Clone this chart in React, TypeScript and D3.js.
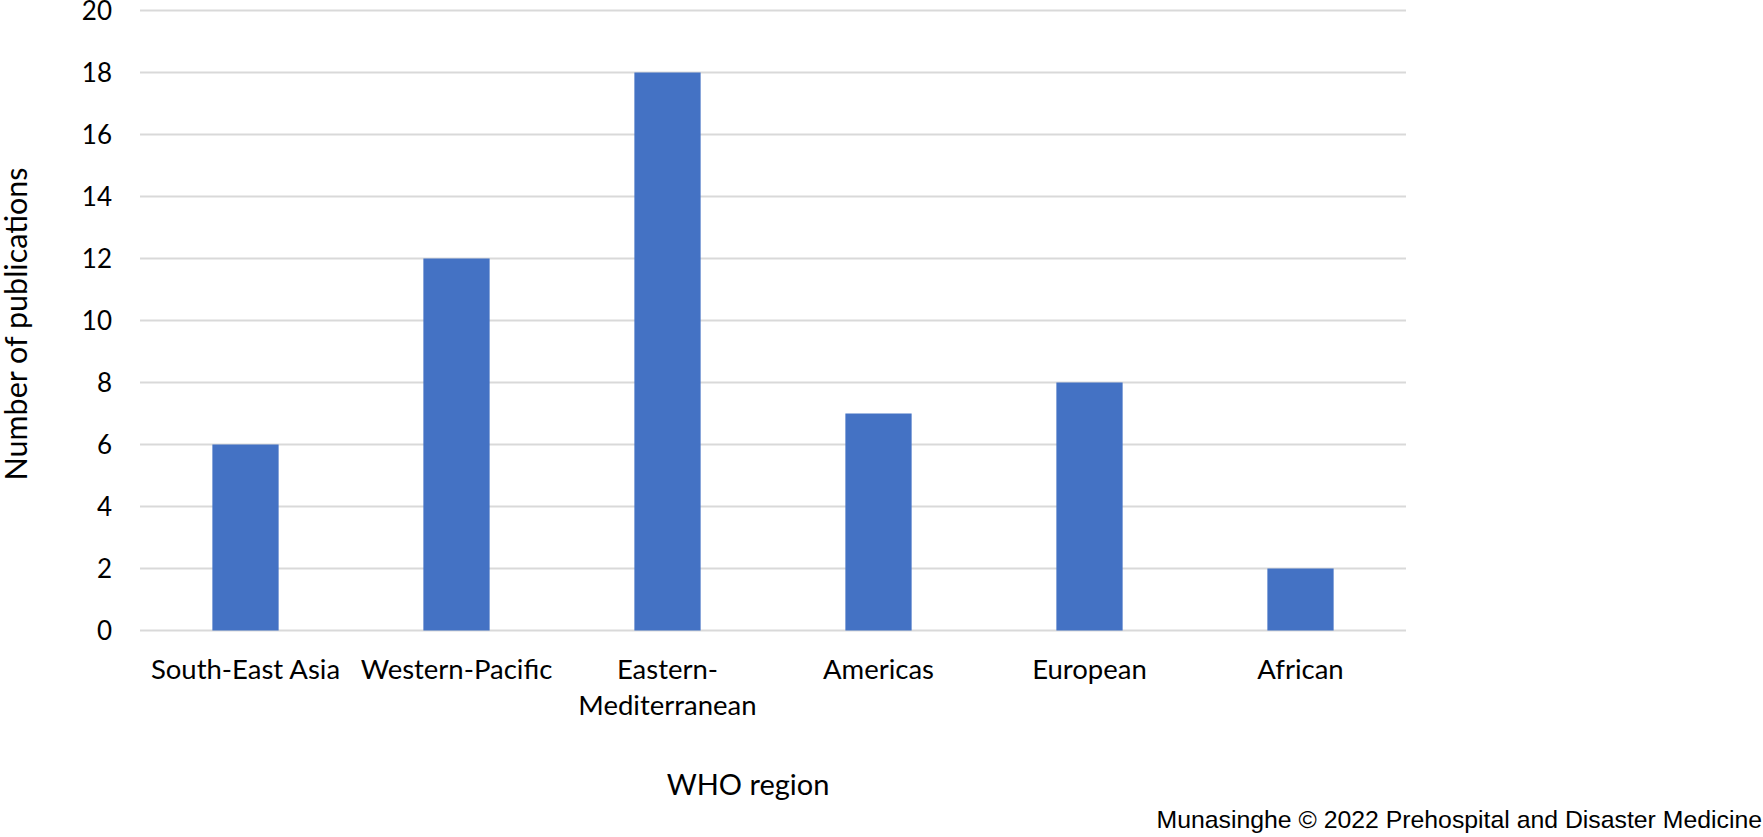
import React, { useEffect } from "react";
import * as d3 from "d3";

const categories: string[][] = [
  ["South-East Asia"],
  ["Western-Pacific"],
  ["Eastern-", "Mediterranean"],
  ["Americas"],
  ["European"],
  ["African"],
];
const values: number[] = [6, 12, 18, 7, 8, 2];
const yTicks: number[] = [0, 2, 4, 6, 8, 10, 12, 14, 16, 18, 20];
const xTitle = "WHO region";
const yTitle = "Number of publications";
const footer = "Munasinghe © 2022 Prehospital and Disaster Medicine";

const W = 1763;
const H = 837;
const left = 140;
const right = 1406;
const top = 10.5;
const bottom = 630.5;
const FONT = "Lato, 'Open Sans', sans-serif";

export default function App() {
  useEffect(() => {
    document.body.style.margin = "0";
  }, []);

  const x = d3
    .scaleBand<number>()
    .domain(d3.range(values.length))
    .range([left, right])
    .paddingInner(0.686)
    .paddingOuter(0.343);
  const y = d3.scaleLinear().domain([0, 20]).range([bottom, top]);

  return (
    <svg width={W} height={H} style={{ display: "block", background: "#fff" }}>
      {yTicks.map((t) => (
        <line
          key={"g" + t}
          x1={left}
          x2={right}
          y1={y(t)}
          y2={y(t)}
          stroke="#d9d9d9"
          strokeWidth={2.2}
        />
      ))}
      {values.map((v, i) => (
        <rect
          key={"b" + i}
          x={x(i)}
          y={y(v)}
          width={x.bandwidth()}
          height={y(0) - y(v)}
          fill="#4472c4"
        />
      ))}
      {yTicks.map((t) => (
        <text
          key={"t" + t}
          x={112}
          y={y(t)}
          dy="0.36em"
          textAnchor="end"
          fontFamily={FONT}
          fontSize={26}
          fill="#000"
        >
          {t}
        </text>
      ))}
      {categories.map((lines, i) => (
        <text
          key={"c" + i}
          textAnchor="middle"
          fontFamily={FONT}
          fontSize={27.5}
          fill="#000"
        >
          {lines.map((l, j) => (
            <tspan key={j} x={(x(i) as number) + x.bandwidth() / 2} y={679 + j * 36}>
              {l}
            </tspan>
          ))}
        </text>
      ))}
      <text
        x={748}
        y={795}
        textAnchor="middle"
        fontFamily={FONT}
        fontSize={29}
        fill="#000"
      >
        {xTitle}
      </text>
      <text
        transform={`translate(27,324) rotate(-90)`}
        textAnchor="middle"
        fontFamily={FONT}
        fontSize={30.5}
        fill="#000"
      >
        {yTitle}
      </text>
      <text
        x={1762}
        y={828}
        textAnchor="end"
        fontFamily="'Liberation Sans', Arial, sans-serif"
        fontSize={24.8}
        fill="#000"
      >
        {footer}
      </text>
    </svg>
  );
}
